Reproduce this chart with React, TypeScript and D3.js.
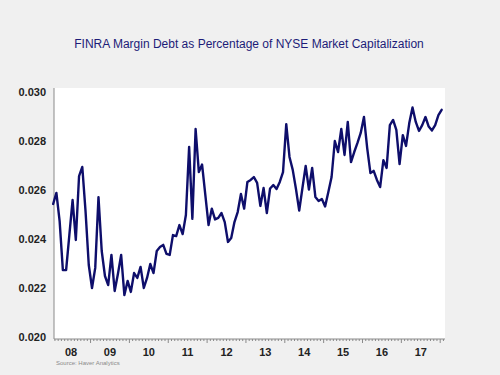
import React from "react";
import * as d3 from "d3";

// Monthly data, Jan 2008 .. Jan 2018
const startYear = 2008;
const marginDebtPct: number[] = [
  // 2008
  0.02543, 0.02588, 0.02473, 0.02273, 0.02273, 0.02416, 0.02559, 0.02396, 0.02657, 0.02694, 0.02514, 0.02294,
  // 2009
  0.022, 0.02282, 0.02571, 0.02351, 0.02249, 0.02212, 0.02335, 0.02188, 0.02257, 0.02335, 0.02171, 0.02229,
  // 2010
  0.02184, 0.02261, 0.02241, 0.02286, 0.022, 0.02241, 0.02298, 0.02261, 0.02351, 0.02367, 0.02376, 0.02339,
  // 2011
  0.02335, 0.02416, 0.02412, 0.02457, 0.0242, 0.02498, 0.02776, 0.02482, 0.02849, 0.02673, 0.02704, 0.0258,
  // 2012
  0.02457, 0.02524, 0.0248, 0.02486, 0.02506, 0.02469, 0.02388, 0.02404, 0.02469, 0.0251, 0.02584, 0.02524,
  // 2013
  0.02633, 0.02641, 0.02653, 0.02629, 0.02535, 0.02608, 0.02506, 0.02606, 0.0262, 0.02604, 0.02633, 0.02673,
  // 2014
  0.02869, 0.02735, 0.02682, 0.02604, 0.02516, 0.02608, 0.02698, 0.02602, 0.0269, 0.02571, 0.02555, 0.02563,
  // 2015
  0.02533, 0.02592, 0.02653, 0.028, 0.02755, 0.02849, 0.02743, 0.02878, 0.02714, 0.02755, 0.02792, 0.02833,
  // 2016
  0.02898, 0.02771, 0.02669, 0.02678, 0.02641, 0.02612, 0.02722, 0.0269, 0.02865, 0.02886, 0.02845, 0.02706,
  // 2017
  0.02824, 0.0278, 0.02873, 0.02937, 0.02878, 0.02841, 0.02865, 0.02898, 0.02859, 0.02843, 0.02865, 0.02906,
  // 2018
  0.02927,
];

const yTicks = [0.02, 0.022, 0.024, 0.026, 0.028, 0.03];
const xTickYears = [2008, 2009, 2010, 2011, 2012, 2013, 2014, 2015, 2016, 2017];
const xTickLabels = ["08", "09", "10", "11", "12", "13", "14", "15", "16", "17"];

const title = "FINRA Margin Debt as Percentage of NYSE Market Capitalization";
const source = "Source: Haver Analytics";

const W = 500;
const H = 375;
const plotLeft = 54;
const plotRight = 445;
const plotTop = 88;
const plotBottom = 339;
const font = "'Liberation Sans', Arial, Helvetica, sans-serif";

export default function App() {
  const x = d3.scaleLinear().domain([2008, 2018]).range([51.7, 51.7 + 388.5]);
  const y = d3.scaleLinear().domain([0.02, 0.03]).range([337, 92]);

  const pts = marginDebtPct.map((v, i) => ({ t: startYear + (i + 0.45) / 12, v }));
  const line = d3
    .line<{ t: number; v: number }>()
    .x((d) => x(d.t))
    .y((d) => y(d.v));

  const monthTicks: number[] = [];
  for (let m = 0; m <= 12 * 10 + 1; m++) {
    const t = startYear + m / 12;
    const px = x(t);
    if (px >= plotLeft && px <= plotRight) monthTicks.push(t);
  }

  return (
    <svg
      width={W}
      height={H}
      style={{ position: "fixed", left: 0, top: 0, display: "block" }}
      fontFamily={font}
    >
      <rect x={0} y={0} width={W} height={H} fill="#f0f0f0" />
      <text x={249} y={48} textAnchor="middle" fontSize={12} fill="#1c1c78">
        {title}
      </text>
      <rect
        x={plotLeft}
        y={plotTop}
        width={plotRight - plotLeft}
        height={plotBottom - plotTop}
        fill="#ffffff"
      />
      {/* y axis */}
      <line x1={plotLeft} x2={plotLeft} y1={plotTop} y2={plotBottom} stroke="#8a8a8a" strokeWidth={1} />
      {yTicks.map((t) => (
        <text
          key={t}
          x={46}
          y={y(t)}
          dy="0.35em"
          textAnchor="end"
          fontSize={11}
          fontWeight="bold"
          fill="#222"
        >
          {d3.format(".3f")(t)}
        </text>
      ))}
      {/* x axis */}
      <line x1={plotLeft} x2={plotRight} y1={plotBottom} y2={plotBottom} stroke="#8a8a8a" strokeWidth={1} />
      {monthTicks.map((t, i) => {
        const major = Math.abs(t - Math.round(t)) < 1e-6;
        return (
          <line
            key={i}
            x1={x(t)}
            x2={x(t)}
            y1={plotBottom}
            y2={plotBottom + (major ? 4 : 2)}
            stroke="#8a8a8a"
            strokeWidth={1}
          />
        );
      })}
      {xTickYears.map((yr, i) => (
        <text
          key={yr}
          x={x(yr + 0.5)}
          y={356}
          textAnchor="middle"
          fontSize={11}
          fontWeight="bold"
          fill="#222"
        >
          {xTickLabels[i]}
        </text>
      ))}
      <text x={56} y={365} fontSize={6} fill="#8a8a8a">
        {source}
      </text>
      <path
        d={line(pts) || ""}
        fill="none"
        stroke="#0e0e6b"
        strokeWidth={2.4}
        strokeLinejoin="round"
        strokeLinecap="round"
      />
    </svg>
  );
}
